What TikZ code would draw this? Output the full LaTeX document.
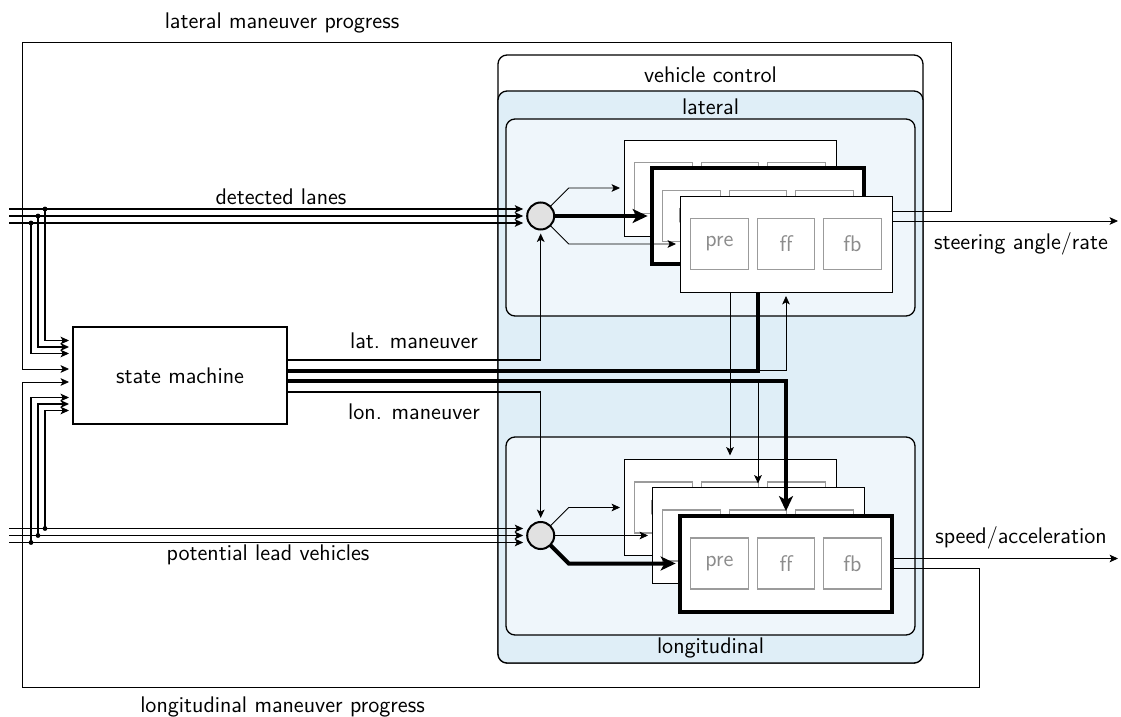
\documentclass[tikz,border=0pt]{standalone}
\usetikzlibrary{arrows.meta,calc}

\definecolor{areablue}{RGB}{223,238,247}
\definecolor{innerblue}{RGB}{239,246,251}
\definecolor{mixfill}{RGB}{225,225,225}
\definecolor{partline}{RGB}{155,155,155}
\definecolor{parttext}{RGB}{140,140,140}

% stacking order of the controller variants and the wires between them
\pgfdeclarelayer{stack1}
\pgfdeclarelayer{wire2}
\pgfdeclarelayer{stack2}
\pgfdeclarelayer{wire3}
\pgfdeclarelayer{stack3}
\pgfsetlayers{main,stack1,wire2,stack2,wire3,stack3}

% one controller variant: frame with pre / ff / fb parts
\newcommand{\controller}[4]{%
  \node[ctrlbox,#4] (#1) at (#2,#3) {};
  \node[part] (#1-pre) at ($(#1)+(-66.5,0)$) {pre};
  \node[part] (#1-ff)  at (#1) {ff};
  \node[part] (#1-fb)  at ($(#1)+(66.5,0)$) {fb};
}

\begin{document}
\begin{tikzpicture}[x=0.5pt,y=-0.5pt,
  font=\fontsize{11.3}{13.5}\selectfont\sffamily,
  line width=0.65pt,
  txt/.style={inner sep=0pt},
  area/.style={draw, rounded corners=4.5pt, inner sep=0pt, outer sep=0pt},
  ctrlbox/.style={draw, fill=white, inner sep=0pt, outer sep=0pt,
    minimum width=106pt, minimum height=48pt},
  active/.style={line width=2pt},
  part/.style={draw=partline, text=parttext, fill=white, inner sep=0pt,
    outer sep=0pt, minimum width=28.75pt, minimum height=25.5pt, line width=0.6pt},
  mixer/.style={circle, draw, fill=mixfill, line width=1pt, inner sep=0pt,
    outer sep=0pt, minimum size=13.5pt},
  junction/.style={circle, fill, inner sep=0pt, minimum size=2.4pt},
  sig/.style={-{Stealth[length=4.2pt,width=3.8pt,inset=1pt]}, shorten >=2pt},
  outsig/.style={-{Stealth[length=4.2pt,width=3.8pt,inset=1pt]}},
  sel/.style={line width=2pt},
  selsig/.style={line width=2pt, -{Stealth[length=7.5pt,width=7pt,inset=2pt]},
    shorten >=2.2pt}
]
\useasboundingbox (0,0) rectangle (1121,717);

% vehicle control frame with lateral / longitudinal areas
\node[area, fill=white, minimum width=212.5pt, minimum height=304pt] (vc) at (710.5,359) {};
\node[area, fill=areablue, minimum width=212.5pt, minimum height=286pt] (ctrl) at (710.5,377) {};
\node[area, fill=innerblue, minimum width=204.5pt, minimum height=98.5pt] (latarea) at (710.5,217.5) {};
\node[area, fill=innerblue, minimum width=204.5pt, minimum height=99pt] (lonarea) at (710.5,536) {};
\node[txt] (vc-title) at (710.5,74.5) {vehicle control};
\node[txt] (lat-title) at (710.5,106.5) {lateral};
\node[txt] (lon-title) at (710.5,648) {longitudinal};

% state machine and signal mixers
\node[draw, inner sep=0pt, outer sep=0pt, minimum width=107pt, minimum height=48.5pt] (sm) at (180,375.5) {state machine};
\node[mixer] (latmix) at (540.7,216) {};
\node[mixer] (lonmix) at (540.7,535.5) {};

% free ends
\coordinate (lanes1) at (9,209);
\coordinate (lanes2) at (9,216);
\coordinate (lanes3) at (9,223);
\coordinate (lead1) at (9,528.5);
\coordinate (lead2) at (9,535.5);
\coordinate (lead3) at (9,542.5);
\coordinate (steer) at (1118,221);
\coordinate (speed) at (1118,558.5);
\coordinate (latfb) at (951,42);
\coordinate (lonfb) at (979,687);

% sensor inputs
\draw[sig] (lanes1) -- (lanes1 -| latmix.west);
\draw[sig] (lanes2) -- (lanes2 -| latmix.west);
\draw[sig] (lanes3) -- (lanes3 -| latmix.west);
\draw[sig] (lead1) -- (lead1 -| lonmix.west);
\draw[sig] (lead2) -- (lead2 -| lonmix.west);
\draw[sig] (lead3) -- (lead3 -| lonmix.west);

\node[junction] (jl1) at (45,209) {};
\node[junction] (jl2) at (38,216) {};
\node[junction] (jl3) at (31,223) {};
\node[junction] (jd1) at (45,528.5) {};
\node[junction] (jd2) at (38,535.5) {};
\node[junction] (jd3) at (31,542.5) {};

\draw[sig] (jl1.center) |- ($(sm.west)+(0,-35)$);
\draw[sig] (jl2.center) |- ($(sm.west)+(0,-28.5)$);
\draw[sig] (jl3.center) |- ($(sm.west)+(0,-22)$);
\draw[sig] (jd3.center) |- ($(sm.west)+(0,22)$);
\draw[sig] (jd2.center) |- ($(sm.west)+(0,28.5)$);
\draw[sig] (jd1.center) |- ($(sm.west)+(0,35)$);

% maneuver requests
\draw[sig] ($(sm.east)+(0,-15.5)$) -| (latmix.south);
\draw[sig] ($(sm.east)+(0,16.5)$) -| (lonmix.north);

% signal names
\node[txt] (t-lanes) at (281,197) {detected lanes};
\node[txt] (t-lead) at (268,555) {potential lead vehicles};
\node[txt] (t-latprog) at (282,23) {lateral maneuver progress};
\node[txt] (t-lonprog) at (282.5,707) {longitudinal maneuver progress};
\node[txt] (t-latman) at (414,341) {lat. maneuver};
\node[txt] (t-lonman) at (414,412) {lon. maneuver};
\node[txt] (t-steer) at (1021,244) {steering angle/rate};
\node[txt] (t-speed) at (1021,538) {speed/acceleration};

% controller variants
\begin{pgfonlayer}{stack1}
  \controller{lat1}{730}{188}{}
  \controller{lon1}{730}{507.5}{}
\end{pgfonlayer}
\begin{pgfonlayer}{stack2}
  \controller{lat2}{758}{216}{active}
  \controller{lon2}{758}{535.5}{}
\end{pgfonlayer}
\begin{pgfonlayer}{stack3}
  \controller{lat3}{786}{244}{}
  \controller{lon3}{786}{563.5}{active}
\end{pgfonlayer}

% wires into the first and second variants
\begin{pgfonlayer}{wire2}
  \draw[sig] (latmix) -- ($(latmix)+(28,-28)$) -- (lat1.west);
  \draw[sig] (lonmix) -- ($(lonmix)+(28,-28)$) -- (lon1.west);
  \draw[selsig] (latmix) -- (lat2.west);
  \draw[sig] (lonmix) -- (lon2.west);
  \draw[sel] ($(sm.east)+(0,-5)$) -| (lat2.south);
  \draw[sig] ($(sm.east)+(0,5)$) -| (lon2.north);
  \draw[outsig] ($(lat2.east)+(0,5)$) -- (steer);
  \draw[sig] ($(lat2.east)+(0,-5)$) -| (latfb) -| ($(sm.west)+(-51,-6.5)$) -- ($(sm.west)+(0,-6.5)$);
  \draw[sig] (lon1.north |- lat3.south) -- (lon1.north);
\end{pgfonlayer}

% wires into the third variants
\begin{pgfonlayer}{wire3}
  \draw[sig] (latmix) -- ($(latmix)+(28,28)$) -- (lat3.west);
  \draw[selsig] (lonmix) -- ($(lonmix)+(28,28)$) -- (lon3.west);
  \draw[sig] ($(sm.east)+(0,-5)$) -| (lat3.south);
  \draw[selsig] ($(sm.east)+(0,5)$) -| (lon3.north);
  \draw[outsig] ($(lon3.east)+(0,-5)$) -- (speed);
  \draw[sig] ($(lon3.east)+(0,5)$) -| (lonfb) -| ($(sm.west)+(-51,6.5)$) -- ($(sm.west)+(0,6.5)$);
\end{pgfonlayer}
\end{tikzpicture}
\end{document}
